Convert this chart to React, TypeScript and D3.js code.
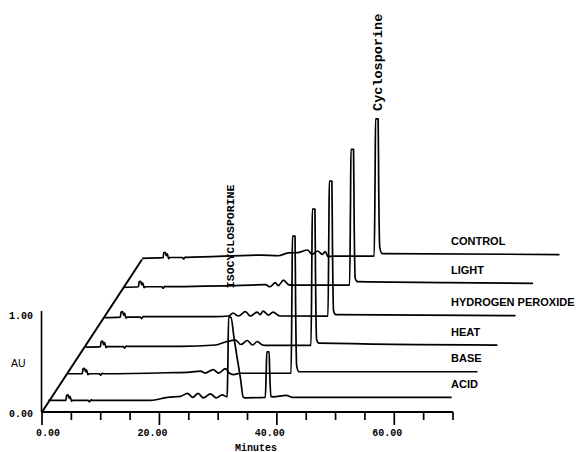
import React from 'react';
import * as d3 from 'd3';

// trace names, front to back
const traceNames = ['ACID', 'BASE', 'HEAT', 'HYDROGEN PEROXIDE', 'LIGHT', 'CONTROL'];

// [minutes, AU]
const acidTrace = [
  [0, 0.02], [3.0, 0.02], [3.1, 0.07], [3.35, 0.075], [3.55, 0.04], [3.7, 0.06], [3.95, 0.01], [4.15, 0.02],
  [6.8, 0.02], [7.0, 0.005], [7.3, 0.025], [7.5, 0.02],
  [17.4, 0.02], [20.3, 0.05], [22.5, 0.06], [23.7, 0.09], [24.6, 0.05], [25.5, 0.09], [26.4, 0.045],
  [27.6, 0.085], [28.6, 0.045], [29.6, 0.075], [30.45, 0.055],
  [30.55, 0.3], [30.7, 0.86], [31.1, 0.86], [31.6, 0.66], [32.15, 0.45], [32.7, 0.25], [33.2, 0.05], [33.5, 0.045],
  [36.95, 0.05], [37.1, 0.3], [37.2, 0.51], [37.6, 0.51], [37.7, 0.3], [37.9, 0.06], [38.3, 0.055],
  [40.5, 0.07], [41.5, 0.05], [68.7, 0.05],
];
const baseTrace = [
  [0, 0], [2.6, 0], [2.7, 0.05], [2.95, 0.055], [3.15, 0.02], [3.3, 0.04], [3.55, -0.01], [3.75, 0],
  [5.5, 0], [5.7, -0.015], [6.0, 0.005], [6.2, 0],
  [17.0, 0.01], [21.0, 0.017], [22.7, 0.027], [23.5, 0.007], [24.9, 0.042], [25.8, 0.007],
  [27.0, 0.052], [27.6, 0.007], [28.3, -0.008], [29.5, 0.005],
  [38.15, 0.005], [38.3, 0.85], [38.38, 1.39], [38.82, 1.39], [38.92, 0.7], [39.1, 0.08], [39.5, 0.02],
  [69.9, 0.02],
];
const heatTrace = [
  [0, -0.02], [2.5, -0.015], [2.6, 0.035], [2.85, 0.04], [3.05, 0.005], [3.2, 0.025], [3.45, -0.025], [3.65, -0.015],
  [6.4, -0.015], [6.6, -0.03], [6.9, -0.01], [7.1, -0.013],
  [16.1, -0.013], [22.1, 0.002], [23.8, 0.032], [25.5, 0.052], [26.4, 0.007], [27.5, 0.047],
  [28.4, 0.002], [29.2, 0.037], [30.1, 0.002], [30.9, -0.003],
  [38.35, -0.003], [38.5, 0.85], [38.58, 1.375], [39.02, 1.375], [39.12, 0.7], [39.3, 0.06], [39.7, 0.02],
  [70.1, 0.0],
];
const peroxideTrace = [
  [0, -0.01], [2.7, -0.005], [2.8, 0.045], [3.05, 0.05], [3.25, 0.015], [3.4, 0.035], [3.65, -0.015], [3.85, -0.005],
  [6.1, -0.005], [6.3, -0.02], [6.6, 0.0], [6.8, 0.0],
  [18.9, 0.0], [21.1, 0.006], [21.9, 0.036], [22.8, 0.006], [24.0, 0.05], [24.8, 0.006], [26.0, 0.046],
  [26.5, 0.02], [27.0, 0.056], [27.9, 0.016], [28.7, 0.046], [29.9, 0.006],
  [38.05, 0.005], [38.2, 0.85], [38.28, 1.37], [38.72, 1.37], [38.82, 0.7], [39.0, 0.06], [39.4, 0.02],
  [70.0, 0.01],
];
const lightTrace = [
  [0, 0.007], [2.6, 0.013], [2.7, 0.063], [2.95, 0.068], [3.15, 0.033], [3.3, 0.053], [3.55, 0.003], [3.75, 0.013],
  [6.6, 0.013], [6.8, -0.002], [7.1, 0.018], [7.3, 0.015],
  [21.6, 0.03], [24.2, 0.035], [25.0, 0.013], [25.9, 0.054], [26.4, 0.025], [27.3, 0.08], [28.1, 0.035], [29.0, 0.03],
  [38.55, 0.03], [38.7, 0.85], [38.78, 1.4], [39.22, 1.4], [39.32, 0.7], [39.5, 0.1], [39.9, 0.064],
  [55, 0.055], [69.8, 0.047],
];
const controlTrace = [
  [0, 0.012], [3.6, 0.018], [3.7, 0.068], [3.95, 0.073], [4.15, 0.038], [4.3, 0.058], [4.55, 0.008], [4.75, 0.02],
  [6.9, 0.02], [7.1, 0.005], [7.4, 0.025], [7.6, 0.022],
  [20.2, 0.045], [23.2, 0.038], [24.9, 0.066], [26.6, 0.07], [28.2, 0.096], [29.0, 0.052], [29.9, 0.086],
  [30.7, 0.052], [31.2, 0.08], [31.7, 0.028], [32.5, 0.035],
  [39.55, 0.035], [39.7, 0.85], [39.78, 1.42], [40.22, 1.42], [40.32, 0.7], [40.5, 0.12], [40.9, 0.06],
  [71.1, 0.05],
];
const traces = [acidTrace, baseTrace, heatTrace, peroxideTrace, lightTrace, controlTrace];

// peak annotations: [label, trace index, minutes, AU]
const isoPeak = ['ISOCYCLOSPORINE', 0, 30.9, 0.86];
const cycloPeak = ['Cyclosporine', 5, 40.0, 1.42];

const xTicks = d3.range(0, 71, 5);
const xTickLabels = [0, 20, 40, 60];
const yTickLabels = [0, 1];

const W = 579;
const H = 452;

export default function App() {
  const x = d3.scaleLinear().domain([0, 70]).range([42, 453]);
  const y = d3.scaleLinear().domain([0, 1]).range([412, 313]);
  // depth of each trace along the oblique axis
  const depth = d3.scaleLinear().domain([0, traces.length - 1]).range([0.063, 0.99]);
  const depthX = 100 / 0.99;
  const depthY = -152.5 / 0.99;
  const off = (i: number) => [depth(i) * depthX, depth(i) * depthY];

  const lineFor = (i: number) => {
    const [dx, dy] = off(i);
    return d3.line<number[]>()
      .x(d => x(d[0]) + dx)
      .y(d => y(d[1]) + dy)
      .curve(d3.curveMonotoneX)(traces[i] as number[][]);
  };

  const [bx, by] = off(traces.length - 1);
  const mono = '"Liberation Mono", "Courier New", monospace';
  const sans = '"Liberation Sans", Arial, sans-serif';

  const peakLabel = (p: any, gap: number, size: number) => {
    const [dx, dy] = off(p[1]);
    const px = x(p[2]) + dx;
    const py = y(p[3]) + dy - gap;
    return (
      <text transform={`translate(${px},${py}) rotate(-90)`} dy="0.35em"
        fontFamily={mono} fontWeight="bold" fontSize={size} fill="#000">{p[0]}</text>
    );
  };

  return (
    <svg width={W} height={H} style={{ position: 'absolute', left: 0, top: 0, background: '#fff' }}>
      <rect width={W} height={H} fill="#fff" />
      {/* axes */}
      <line x1={x(0)} x2={x(70)} y1={y(0)} y2={y(0)} stroke="#000" strokeWidth={1.8} />
      <line x1={x(0) - 0.5} x2={x(0) - 0.5} y1={y(0)} y2={y(1) - 2} stroke="#000" strokeWidth={1.6} />
      <line x1={x(0)} y1={y(0)} x2={x(0) + bx} y2={y(0) + by} stroke="#000" strokeWidth={2} />
      {xTicks.map(t => (
        <line key={t} x1={x(t)} x2={x(t)} y1={y(0)} y2={y(0) + (t % 20 === 0 ? 13 : 8)}
          stroke="#000" strokeWidth={1.7} />
      ))}
      {xTickLabels.map(t => (
        <text key={t} x={x(t) + (t === 0 ? 6 : -7)} y={432} textAnchor="middle" dy="0.35em"
          fontFamily={mono} fontWeight="bold" fontSize={10}>{t.toFixed(2)}</text>
      ))}
      <text x={256} y={447} textAnchor="middle" dy="0.35em" fontFamily={mono} fontWeight="bold" fontSize={10}>Minutes</text>
      {yTickLabels.map(v => (
        <text key={v} x={33} y={y(v) + (v === 0 ? 1 : 2)} textAnchor="end" dy="0.35em"
          fontFamily={mono} fontWeight="bold" fontSize={10}>{v.toFixed(2)}</text>
      ))}
      <text x={11} y={363} dy="0.35em" fontFamily={sans} fontSize={10.5}>AU</text>

      {/* chromatograms */}
      {traces.map((t, i) => (
        <path key={i} d={lineFor(i) || ''} fill="none" stroke="#000" strokeWidth={1.7} strokeLinejoin="round" />
      ))}
      {traceNames.map((name, i) => {
        const [, dy] = off(i);
        const last = traces[i][traces[i].length - 1];
        return (
          <text key={name} x={451} y={y(last[1]) + dy - 13.5} dy="0.35em"
            fontFamily={sans} fontWeight="bold" fontSize={11}>{name}</text>
        );
      })}
      {peakLabel(isoPeak, 29, 11.5)}
      {peakLabel(cycloPeak, 8, 13.5)}
    </svg>
  );
}
